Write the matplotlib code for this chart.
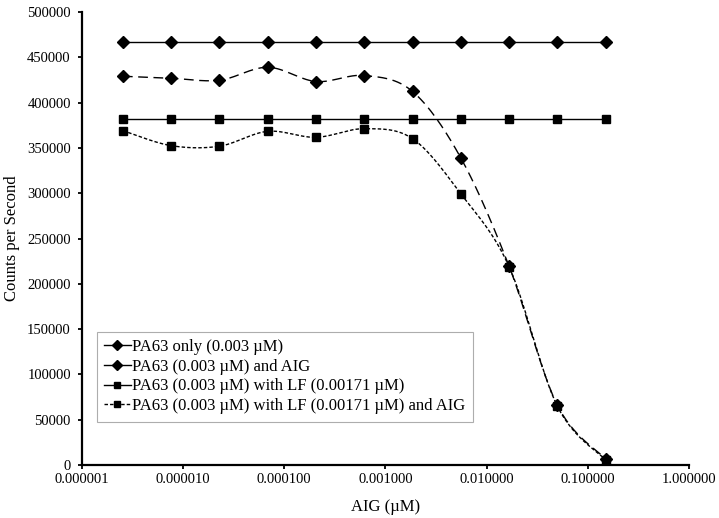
import numpy as np
import matplotlib.pyplot as plt
from matplotlib.ticker import FixedLocator, FuncFormatter

plt.rcParams['font.family'] = ['Liberation Serif', 'DejaVu Serif']

# AIG concentration (uM), 3-fold dilutions
aig = [0.15, 0.05, 0.0166667, 0.00555556, 0.00185185, 0.000617284,
       0.000205761, 6.8587e-05, 2.28624e-05, 7.6208e-06, 2.54027e-06]
aig = aig[::-1]

pa63_only = [466500] * 11
pa63_aig = [429100, 426900, 424700, 439000, 423300, 429900, 412300,
            339000, 219500, 66000, 6800]
pa63_lf = [381500] * 11
pa63_lf_aig = [369000, 352500, 351900, 368300, 361700, 371200, 360200,
               299400, 219000, 65000, 5500]

labels = ["PA63 only (0.003 \u00b5M)",
          "PA63 (0.003 \u00b5M) and AIG",
          "PA63 (0.003 \u00b5M) with LF (0.00171 \u00b5M)",
          "PA63 (0.003 \u00b5M) with LF (0.00171 \u00b5M) and AIG"]


def smooth(x, y, n=30):
    # Excel-style smoothed line: Catmull-Rom bezier in (log x, y)
    lx = np.log10(np.asarray(x, float))
    y = np.asarray(y, float)
    P = np.column_stack([lx, y])
    pts = []
    for i in range(len(P) - 1):
        p0 = P[i - 1] if i > 0 else P[i]
        p3 = P[i + 2] if i + 2 < len(P) else P[i + 1]
        b0 = P[i]
        b3 = P[i + 1]
        b1 = b0 + (b3 - p0) / 6
        b2 = b3 - (p3 - b0) / 6
        t = np.linspace(0, 1, n)[:, None]
        seg = ((1 - t) ** 3 * b0 + 3 * (1 - t) ** 2 * t * b1
               + 3 * (1 - t) * t ** 2 * b2 + t ** 3 * b3)
        pts.append(seg if i == 0 else seg[1:])
    pts = np.vstack(pts)
    return 10 ** pts[:, 0], pts[:, 1]


fig = plt.figure(figsize=(7.19, 5.18), dpi=100)
ax = fig.add_axes([0.114, 0.1023, 0.8442, 0.8745])

series = [
    (pa63_only, 'D', '-', 6.5),
    (pa63_aig, 'D', (0, (7, 4)), 6.5),
    (pa63_lf, 's', '-', 5.2),
    (pa63_lf_aig, 's', (0, (2.5, 1.5)), 5.2),
]
handles = []
for (vals, mk, ls, ms), lab in zip(series, labels):
    sx, sy = smooth(aig, vals)
    ax.plot(sx, sy, color='black', lw=1.0, ls=ls)
    ax.plot(aig, vals, ls='none', marker=mk, ms=ms, color='black')
    hls = ls if mk == 's' else '-'
    h, = ax.plot([], [], color='black', lw=1.0, ls=hls, marker=mk,
                 ms=ms - 1.5, label=lab)
    handles.append(h)

ax.set_xscale('log')
ax.set_xlim(1e-6, 1)
ax.set_ylim(0, 500000)
ax.xaxis.set_major_locator(FixedLocator([10.0 ** k for k in range(-6, 1)]))
ax.xaxis.set_minor_locator(FixedLocator([]))
ax.xaxis.set_major_formatter(FuncFormatter(lambda v, p: f"{v:.6f}"))
ax.set_yticks(np.arange(0, 500001, 50000))
ax.yaxis.set_major_formatter(FuncFormatter(lambda v, p: f"{int(v)}"))

for s in ['top', 'right']:
    ax.spines[s].set_visible(False)
for s in ['left', 'bottom']:
    ax.spines[s].set_linewidth(1.6)
ax.tick_params(axis='both', direction='out', length=3, width=1.3,
               labelsize=10.5, colors='black')
ax.tick_params(axis='y', pad=5)
ax.tick_params(axis='x', pad=3)

ax.set_xlabel("AIG (\u00b5M)", fontsize=12, labelpad=9)
ax.set_ylabel("Counts per Second", fontsize=12, labelpad=5)

leg = ax.legend(handles=handles, loc='lower left',
                bbox_to_anchor=(0.024, 0.096), borderaxespad=0,
                fontsize=12, frameon=True, fancybox=False,
                edgecolor='#999999', handlelength=1.6, handletextpad=0.1,
                labelspacing=0.22, borderpad=0.45)
leg.get_frame().set_linewidth(0.8)

fig.savefig("out.png", dpi=100)
